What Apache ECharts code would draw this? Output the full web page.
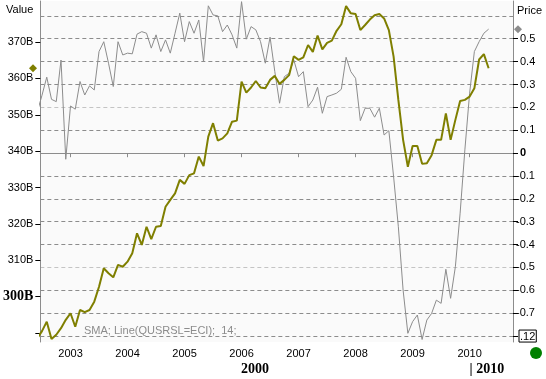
<!DOCTYPE html>
<html>
<head>
<meta charset="utf-8">
<script src="https://cdn.jsdelivr.net/npm/echarts@6/dist/echarts.min.js"></script>
<style>
    html, body {margin: 0; padding: 0; background: #ffffff;}
    #chart {width: 546px; height: 379px;}
</style>
</head>
<body>
<div id="chart"></div>
<script>
// monthly points, first one is 2002-06 (partly clipped at the left edge)
const firstYear = 2002, firstMonth = 6;

// SMA of the value (left axis, billions)
const valueSeries = [
    288.5, 290.5, 293.1, 288.3, 289.5, 291.3, 293.6, 295.4, 291.7, 296.3, 295.7, 296.3,
    298.6, 302.7, 307.8, 306.4, 305.3, 308.7, 308.2, 309.6, 311.9, 317.4, 314.2, 319.2,
    315.8, 319.2, 319.4, 324.7, 326.6, 328.4, 332.1, 331.0, 333.4, 333.9, 338.5, 335.9,
    344.0, 347.7, 342.9, 343.5, 344.9, 348.1, 348.4, 359.1, 356.1, 357.5, 359.3, 357.5,
    357.3, 359.6, 360.7, 358.5, 359.6, 360.9, 366.1, 365.1, 365.8, 369.2, 367.3, 371.8,
    368.0, 369.8, 370.4, 373.1, 374.9, 379.9, 377.9, 377.7, 373.3, 374.7, 376.2, 377.4,
    377.7, 376.5, 373.3, 366.0, 354.1, 343.1, 335.7, 341.4, 341.4, 336.5, 336.7, 338.9,
    343.1, 343.1, 350.4, 343.1, 348.6, 353.8, 354.1, 355.0, 357.3, 365.2, 366.7, 362.8
];

// price line (right axis)
const priceSeries = [
    0.18, 0.253, 0.332, 0.235, 0.225, 0.407, -0.027, 0.206, 0.192, 0.313, 0.254, 0.294,
    0.276, 0.444, 0.487, 0.393, 0.291, 0.487, 0.429, 0.437, 0.434, 0.52, 0.531, 0.524,
    0.459, 0.517, 0.444, 0.495, 0.437, 0.524, 0.612, 0.487, 0.575, 0.524, 0.582, 0.400,
    0.644, 0.604, 0.600, 0.531, 0.560, 0.517, 0.459, 0.662, 0.498, 0.553, 0.539, 0.487,
    0.393, 0.507, 0.356, 0.218, 0.334, 0.349, 0.407, 0.334, 0.356, 0.203, 0.232, 0.288,
    0.174, 0.247, 0.254, 0.262, 0.279, 0.419, 0.356, 0.327, 0.142, 0.196, 0.196, 0.157,
    0.196, 0.079, 0.098, -0.103, -0.322, -0.599, -0.788, -0.737, -0.708, -0.815, -0.730, -0.701,
    -0.643, -0.657, -0.508, -0.635, -0.497, -0.263, 0.014, 0.262, 0.444, 0.487, 0.524, 0.542
];

const yearLabels = ['2003', '2004', '2005', '2006', '2007', '2008', '2009', '2010'];
const valueTicks = [290, 300, 310, 320, 330, 340, 350, 360, 370];
const priceTicks = [-0.8, -0.7, -0.6, -0.5, -0.4, -0.3, -0.2, -0.1, 0, 0.1, 0.2, 0.3, 0.4, 0.5];
const gridValues = [-0.8, -0.7, -0.6, -0.5, -0.4, -0.3, -0.2, -0.1, 0, 0.1, 0.2, 0.3, 0.4, 0.5, 0.6];
const lightGrid = [-0.5, 0.2];
const decadeLabel = '2000', nextDecadeLabel = '| 2010';
const legendText = 'SMA; Line(QUSRSL=ECI);  14;';

const SANS = 'Liberation Sans, Arial, sans-serif';
const SERIF = 'Liberation Serif, Times New Roman, serif';

// x is counted in months since Jan 2002
let monthPos = [];
for (let i = 0; i < valueSeries.length; i++) { monthPos.push(firstMonth - 1 + i); }
const yearPos = yearLabels.map(y => (Number(y) - firstYear) * 12);

const xMin = 5.65, xMax = 105.13;
const decadeEnd = yearPos[yearPos.length - 1];

let valueData = monthPos.map((m, i) => [m, valueSeries[i]]);
let priceData = monthPos.map((m, i) => [m, priceSeries[i]]);

const near = (a, b) => Math.abs(a - b) < 1e-6;

let chart = echarts.init(document.getElementById('chart'));

let option = {
    animation: false,
    backgroundColor: '#ffffff',
    grid: {left: 38, right: 33, top: 1, bottom: 37, show: true, backgroundColor: '#fafafa', borderWidth: 0},
    xAxis: [
        {
            type: 'value', min: xMin, max: xMax, position: 'bottom',
            axisLine: {show: true, lineStyle: {color: '#8c8c8c'}},
            axisTick: {show: true, length: 4, customValues: yearPos, lineStyle: {color: '#555555'}},
            axisLabel: {
                customValues: yearPos, margin: 6, color: '#000', fontSize: 11, fontFamily: SANS,
                formatter: v => String(firstYear + Math.round(v / 12))
            },
            splitLine: {show: false}
        },
        {
            type: 'value', min: xMin, max: xMax, position: 'top',
            axisLine: {show: true, lineStyle: {color: '#8c8c8c'}},
            axisTick: {show: true, inside: true, length: 4, customValues: yearPos, lineStyle: {color: '#8c8c8c'}},
            axisLabel: {show: false},
            splitLine: {show: false}
        },
        {
            type: 'value', min: xMin, max: xMax, position: 'bottom', offset: 14,
            axisLine: {show: false}, axisTick: {show: false}, splitLine: {show: false},
            axisLabel: {
                customValues: [(xMin + decadeEnd) / 2], margin: 6, color: '#000',
                fontSize: 14, fontWeight: 'bold', fontFamily: SERIF, formatter: () => decadeLabel
            }
        },
        {
            type: 'value', min: xMin, max: xMax, position: 'bottom', offset: 14,
            axisLine: {show: false}, axisTick: {show: false}, splitLine: {show: false},
            axisLabel: {
                customValues: [decadeEnd], margin: 6, align: 'left', color: '#000',
                fontSize: 14, fontWeight: 'bold', fontFamily: SERIF, formatter: () => nextDecadeLabel
            }
        }
    ],
    yAxis: [
        {
            type: 'value', position: 'left', min: 287.5, max: 381.3,
            axisLine: {show: true, lineStyle: {color: '#8c8c8c'}},
            axisTick: {show: true, length: 5, customValues: valueTicks, lineStyle: {color: '#000'}},
            axisLabel: {
                customValues: valueTicks, margin: 7, color: '#000', fontSize: 11, fontFamily: SANS,
                formatter: v => v === 290 ? '' : (v === 300 ? '{b|300B}' : v + 'B'),
                rich: {b: {fontWeight: 'bold', fontFamily: SERIF, fontSize: 14, color: '#000'}}
            },
            splitLine: {show: false}
        },
        {
            type: 'value', position: 'right', min: -0.826, max: 0.665,
            axisLine: {show: true, lineStyle: {color: '#8c8c8c'}},
            axisTick: {show: true, length: 5, customValues: priceTicks, lineStyle: {color: '#000'}},
            axisLabel: {
                customValues: priceTicks, margin: 3, color: '#000', fontSize: 11, fontFamily: SANS,
                formatter: v => {
                    if (near(v, -0.8)) return '{s|}{box|.12}';
                    if (near(v, 0)) return '{z|0}';
                    if (v > 0) return '{p|' + v.toFixed(1) + '}';
                    return v.toFixed(1);
                },
                rich: {
                    s: {width: 3},
                    box: {borderColor: '#000', borderWidth: 1, padding: [1, 1, 0, 1], fontSize: 11, fontFamily: SANS, color: '#000'},
                    z: {padding: [0, 0, 0, 4], fontWeight: 'bold', fontSize: 11, fontFamily: SANS, color: '#000'},
                    p: {padding: [0, 0, 0, 4], fontSize: 11, fontFamily: SANS, color: '#000'}
                }
            },
            splitLine: {show: false}
        },
        {
            // only carries the dashed grid lines
            type: 'value', position: 'right', min: -0.826, max: 0.665,
            axisLine: {show: false},
            axisTick: {show: false, customValues: gridValues},
            axisLabel: {show: false},
            splitLine: {
                show: true,
                lineStyle: {
                    type: [4, 3], width: 1,
                    color: gridValues.map(v => lightGrid.some(l => near(l, v)) ? '#c4c4c4' : '#8c8c8c')
                }
            }
        }
    ],
    series: [
        {
            name: 'Price', type: 'line', xAxisIndex: 0, yAxisIndex: 1, data: priceData,
            showSymbol: false, clip: true, z: 2,
            lineStyle: {color: '#8c8c8c', width: 1}
        },
        {
            name: 'Value', type: 'line', xAxisIndex: 0, yAxisIndex: 0, data: valueData,
            showSymbol: false, clip: true, z: 3,
            lineStyle: {color: '#7f7f00', width: 2}
        }
    ]
};

chart.setOption(option);

// last-value markers beside the axes, placed through the axis scales
let yLastValue = chart.convertToPixel({yAxisIndex: 0}, valueSeries[valueSeries.length - 1]);
let yLastPrice = chart.convertToPixel({yAxisIndex: 1}, priceSeries[priceSeries.length - 1]);
const diamond = (x, y, r) => [[x, y - r], [x + r, y], [x, y + r], [x - r, y]];

chart.setOption({
    graphic: [
        {type: 'text', left: 6, top: 4, style: {text: 'Value', font: '11px ' + SANS, fill: '#000'}},
        {type: 'text', left: 517, top: 5, style: {text: 'Price', font: '11px ' + SANS, fill: '#000'}},
        {type: 'polygon', shape: {points: diamond(33, yLastValue, 4)}, style: {fill: '#7f7f00'}},
        {type: 'polygon', shape: {points: diamond(518, yLastPrice, 4)}, style: {fill: '#8c8c8c'}},
        {
            type: 'text', left: 84, top: 325, z: 10,
            style: {text: legendText, font: '11px ' + SANS, fill: '#8c8c8c', backgroundColor: '#fafafa'}
        },
        {type: 'circle', shape: {cx: 536, cy: 353, r: 6}, style: {fill: '#008000'}}
    ]
});
</script>
</body>
</html>
